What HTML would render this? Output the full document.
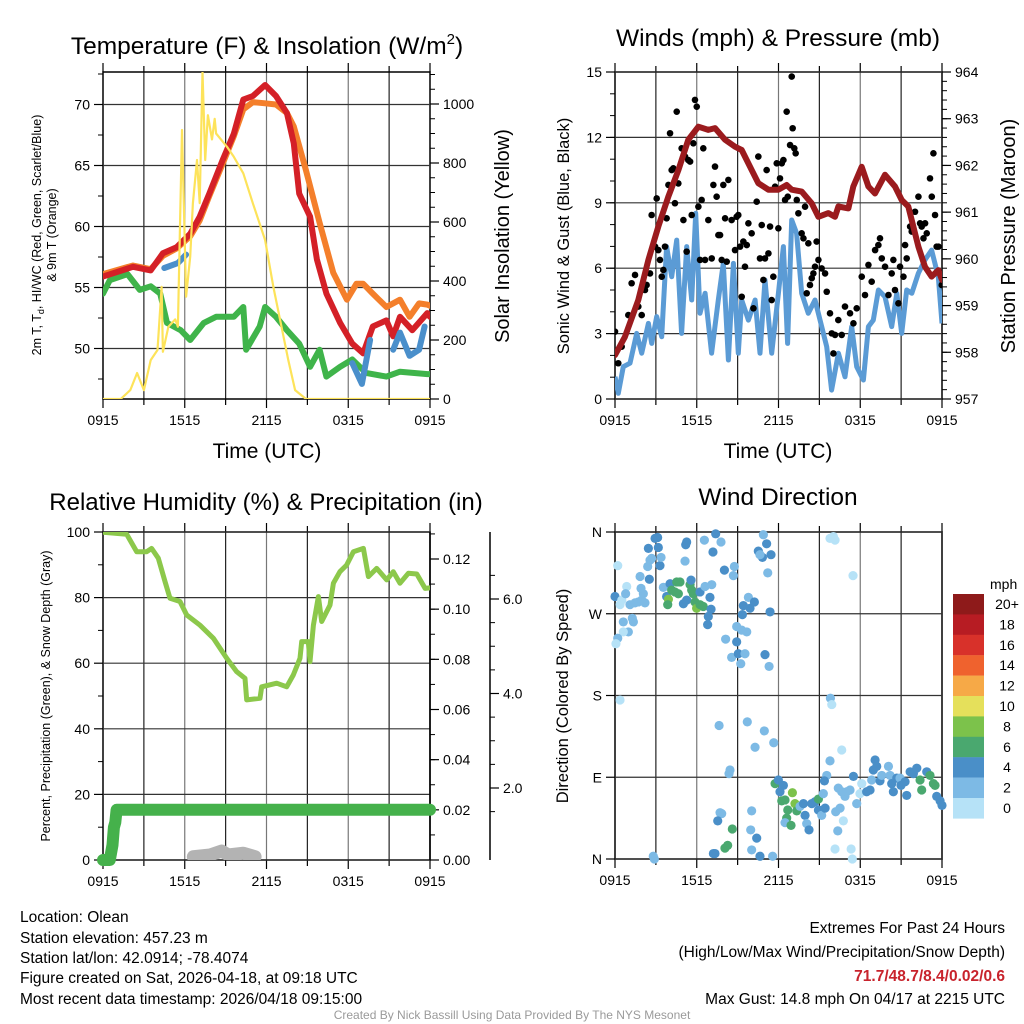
<!DOCTYPE html>
<html><head><meta charset="utf-8"><title>Mesonet Olean</title>
<style>
html,body{margin:0;padding:0;background:#fff;}
svg{display:block;font-family:"Liberation Sans",Arial,sans-serif;}
</style></head>
<body>
<svg id="chart" width="1024" height="1024" viewBox="0 0 1024 1024" xmlns="http://www.w3.org/2000/svg">
<defs>
<clipPath id="c1"><rect x="103" y="72" width="327" height="327"/></clipPath>
<clipPath id="c2"><rect x="615" y="72" width="327" height="327"/></clipPath>
<clipPath id="c3"><rect x="103" y="532" width="327" height="328"/></clipPath>
<clipPath id="c4"><rect x="609" y="526" width="339" height="340"/></clipPath>
</defs>
<g id="g1"></g>
<g id="g2"></g>
<g id="g3"></g>
<g id="g4"></g>

<text x="267" y="54" font-size="24.5" text-anchor="middle">Temperature (F) &amp; Insolation (W/m<tspan font-size="15" dy="-10">2</tspan><tspan dy="10">)</tspan></text>
<text x="778" y="46" font-size="24.5" text-anchor="middle">Winds (mph) &amp; Pressure (mb)</text>
<text x="266" y="510" font-size="24" text-anchor="middle">Relative Humidity (%) &amp; Precipitation (in)</text>
<text x="778" y="505" font-size="24.5" text-anchor="middle">Wind Direction</text>

<text x="267" y="458" font-size="21" text-anchor="middle">Time (UTC)</text>
<text x="778" y="458" font-size="21" text-anchor="middle">Time (UTC)</text>

<text transform="translate(41,235) rotate(-90)" font-size="12.5" text-anchor="middle">2m T, T<tspan font-size="9" dy="3">d</tspan><tspan dy="-3">, HI/WC (Red, Green, Scarlet/Blue)</tspan></text>
<text transform="translate(56,235) rotate(-90)" font-size="12.5" text-anchor="middle">&amp; 9m T (Orange)</text>
<text transform="translate(509,236) rotate(-90)" font-size="20" text-anchor="middle">Solar Insolation (Yellow)</text>
<text transform="translate(569,236) rotate(-90)" font-size="16.5" text-anchor="middle">Sonic Wind &amp; Gust (Blue, Black)</text>
<text transform="translate(1015,236) rotate(-90)" font-size="20" text-anchor="middle">Station Pressure (Maroon)</text>
<text transform="translate(50,696) rotate(-90)" font-size="12.5" text-anchor="middle">Percent, Precipitation (Green), &amp; Snow Depth (Gray)</text>
<text transform="translate(568,696) rotate(-90)" font-size="16.5" text-anchor="middle">Direction (Colored By Speed)</text>

<g font-size="15.5">
<text x="20" y="922">Location: Olean</text>
<text x="20" y="943">Station elevation: 457.23 m</text>
<text x="20" y="963">Station lat/lon: 42.0914; -78.4074</text>
<text x="20" y="983">Figure created on Sat, 2026-04-18, at 09:18 UTC</text>
<text x="20" y="1004">Most recent data timestamp: 2026/04/18 09:15:00</text>
</g>
<g font-size="15.5" text-anchor="end">
<text x="1005" y="933">Extremes For Past 24 Hours</text>
<text x="1005" y="957">(High/Low/Max Wind/Precipitation/Snow Depth)</text>
<text x="1005" y="981" fill="#c8232c" font-weight="bold">71.7/48.7/8.4/0.02/0.6</text>
<text x="1005" y="1004">Max Gust: 14.8 mph On 04/17 at 2215 UTC</text>
</g>
<text x="512" y="1019" font-size="12" fill="#9a9a9a" text-anchor="middle">Created By Nick Bassill Using Data Provided By The NYS Mesonet</text>
</svg>
<script>
// ---------- Panel 1 data ----------
const redT=[0,2.2,3.5,4.4,5.4,6.4,7.1,7.8,8.8,9.6,10.3,11.0,11.9,12.7,13.5,14.0,14.4,15.2,15.7,16.4,17.4,18.3,19.1,19.8,20.8,21.3,21.8,22.7,23.8,24];
const redV=[55.9,56.7,56.4,57.8,58.3,59.4,60.8,62.7,65.5,67.6,70.4,70.7,71.6,70.7,69.3,66.8,62.7,60.8,57.3,54.5,52.1,50.4,49.6,51.8,52.3,51.0,52.6,51.5,52.9,52.6];
const orangeT=[0,2.2,3.5,4.4,5.4,6.4,7.1,7.8,8.8,9.6,10.3,11.0,11.9,12.7,13.5,14.0,14.9,15.9,16.9,17.9,18.6,19.1,19.8,20.8,21.8,22.5,23.2,23.8,24];
const orangeV=[56.1,56.8,56.5,57.6,58.2,59.2,60.5,62.5,65.2,67.4,69.6,70.2,70.1,70.0,69.3,68.2,64.6,60.3,56.2,54.0,55.3,55.3,54.5,53.4,54.0,52.6,53.7,53.6,53.5];
const dewT=[0,0.5,1.8,2.7,3.5,4.2,4.7,5.7,6.4,7.4,8.3,9.6,10.3,10.5,11.5,11.9,12.7,13.5,14.4,15.2,15.9,16.4,17.4,18.3,19.3,20.8,21.8,23.8,24];
const dewV=[54.5,55.6,56.1,54.8,55.1,54.5,52.1,51.5,50.7,52.1,52.6,52.6,53.4,49.9,51.8,53.4,52.6,51.5,50.4,48.5,49.9,47.7,48.5,49.1,48.0,47.7,48.1,47.9,47.9];
const wc1T=[4.5,5.5,6.1];
const wc1V=[56.6,57.0,57.7];
const wc2T=[18.3,19.0,19.6];
const wc2V=[48.8,47.1,50.7];
const wc3T=[21.3,21.8,22.5,23.2,23.6];
const wc3V=[49.9,51.3,49.4,49.9,51.8];
const solT=[0,1.3,2.0,2.5,3.0,3.5,4.0,4.3,4.4,4.8,5.3,5.5,5.8,6.1,6.4,6.6,6.9,7.1,7.3,7.5,7.7,8.0,8.2,8.3,9.1,9.6,10.3,11.0,11.9,12.5,13.1,13.6,14.1,14.9,24];
const solV=[0,0,30,88,30,132,166,380,160,245,270,245,912,347,482,664,810,664,1110,810,962,880,950,900,855,821,765,663,539,381,245,132,30,0,0];
// ---------- Panel 2 data ----------
const presT=[0,0.73,1.71,2.45,3.18,3.91,4.65,5.38,6.12,6.85,7.34,8.07,8.81,9.30,10.03,10.52,11.26,11.99,12.6,12.97,13.70,14.44,14.93,15.66,16.15,16.4,17.13,17.49,18.11,18.6,19.08,19.82,20.55,21.04,21.53,22.27,22.75,23.24,23.73,24];
const presV=[957.94,958.33,959.12,959.98,960.69,961.33,961.90,962.55,962.83,962.76,962.80,962.55,962.40,962.33,961.90,961.62,961.48,961.48,961.58,961.48,961.44,961.19,960.90,960.98,960.90,961.12,961.08,961.55,961.97,961.55,961.40,961.80,961.55,961.26,961.12,960.26,959.83,959.62,959.76,959.55];
const windT=[0,0.24,0.61,1.1,1.59,1.96,2.45,2.69,3.06,3.43,3.79,4.16,4.53,4.89,5.26,5.63,5.92,6.24,6.61,7.09,7.58,7.95,8.32,8.69,9.05,9.3,9.79,10.28,10.64,11.01,11.5,11.99,12.36,12.67,12.97,13.33,13.7,14.19,14.68,15.17,15.54,15.9,16.4,16.88,17.37,17.74,18.23,18.6,18.96,19.33,19.82,20.31,20.68,21.04,21.41,21.78,22.27,22.75,23.24,23.73,24];
const windV=[1.02,0.26,1.48,1.64,3.01,2.1,3.47,2.55,3.78,2.86,6.99,5.61,7.29,3.01,6.99,4.54,8.52,3.93,4.85,2.1,4.54,6.22,1.79,6.22,2.1,4.54,3.62,4.54,2.1,5.46,2.1,4.85,6.99,2.55,8.21,7.6,4.85,3.93,4.54,3.32,2.4,0.41,2.1,1.02,3.32,1.48,0.87,3.32,3.62,5.0,4.69,3.32,4.85,3.01,5.0,4.85,5.77,6.38,6.83,5.61,3.47];
const gustT=[0,0.24,0.49,0.98,1.22,1.47,1.71,1.96,2.2,2.32,2.57,2.69,2.94,3.06,3.18,3.3,3.43,3.55,3.67,3.79,3.92,4.04,4.16,4.28,4.4,4.53,4.65,4.89,5.02,5.14,5.26,5.38,5.51,5.63,5.75,5.87,6.0,6.12,6.24,6.36,6.48,6.61,6.85,7.1,7.22,7.34,7.46,7.59,7.71,7.83,7.95,8.08,8.2,8.32,8.56,8.81,8.93,9.05,9.18,9.3,9.42,9.54,9.67,9.79,10.03,10.16,10.4,10.52,10.64,10.77,10.89,11.01,11.13,11.26,11.38,11.5,11.62,11.75,11.87,11.99,12.11,12.24,12.36,12.48,12.6,12.68,12.85,12.97,13.04,13.16,13.26,13.34,13.46,13.7,13.83,13.95,14.07,14.19,14.31,14.44,14.56,14.68,14.8,14.93,15.17,15.42,15.54,15.78,15.91,16.03,16.15,16.39,16.64,16.88,17.25,17.5,17.74,18.11,18.35,18.6,18.84,19.09,19.33,19.45,19.58,19.82,20.07,20.31,20.43,20.55,20.8,20.92,21.17,21.29,21.41,21.66,21.78,22.02,22.27,22.39,22.51,22.64,22.76,22.88,23.12,23.25,23.37,23.49,23.61,23.74,23.98];
const gustV=[3.09,1.64,2.4,3.85,5.31,5.69,4.24,3.85,5.0,5.23,5.76,8.44,6.99,9.2,6.83,6.38,5.61,5.92,6.99,8.29,9.82,12.19,10.5,10.58,8.98,13.18,9.89,11.5,8.21,11.12,6.76,10.96,10.89,8.44,11.73,13.72,13.41,8.82,6.38,9.13,11.5,6.38,8.21,6.45,9.82,10.66,9.28,7.52,7.52,6.38,9.82,8.29,6.3,10.05,8.21,6.83,8.36,8.44,6.99,4.69,7.22,6.07,7.06,8.06,7.6,4.16,9.05,11.12,6.45,7.98,5.46,6.45,10.5,6.68,7.91,4.54,5.61,9.74,10.81,7.83,10.12,10.81,10.96,9.13,13.18,9.28,11.65,14.79,12.42,11.5,11.27,9.13,8.52,7.6,7.37,8.82,4.85,7.14,5.23,5.54,5.76,6.07,7.22,6.38,5.99,5.76,4.92,3.93,3.01,2.09,2.94,3.62,2.94,4.24,3.93,3.47,4.16,5.61,4.77,6.15,5.38,6.83,7.06,7.37,6.45,6.07,4.77,5.76,6.38,5.0,4.39,6.07,5.61,7.06,6.45,7.91,7.68,8.59,9.28,8.06,7.91,7.37,8.06,7.6,10.12,9.28,11.27,8.44,6.99,6.99,5.23];
// ---------- Panel 3 data ----------
const rhT=[0,1.74,2.47,3.21,3.57,4.06,4.55,4.92,5.65,6.14,7.12,8.1,9.08,9.81,10.42,10.55,11.52,11.65,12.75,13.48,13.97,14.46,14.58,15.07,15.19,15.44,15.81,16.05,16.66,16.91,17.39,17.88,18.38,19.11,19.48,20.09,20.82,21.31,21.8,22.41,23.03,23.64,24];
const rhV=[99.9,99.3,94.0,94.0,95.0,92.0,84.9,79.8,78.8,74.7,71.6,67.6,61.5,57.4,55.4,48.8,49.3,52.8,53.9,52.8,56.4,61.5,66.6,66.6,60.5,71.6,80.3,72.7,77.7,84.4,87.9,89.9,94.0,95.0,86.4,88.9,85.4,87.9,84.4,87.4,87.2,82.8,83.0];
const precipT=[0,0.5,0.7,0.8,0.9,1.0,24];
const precipV=[0,0,0.006,0.013,0.015,0.02,0.02];
const snowT=[6.63,7.85,8.71,9.2,10.3,11.16];
const snowV=[0.0013,0.002,0.0036,0.002,0.0027,0.0013];
// ---------- Panel 4 data ----------
const dirT=[0.2,0,0.5,0.37,0.86,0.78,1.10,1.47,1.71,1.96,2.20,2.08,1.91,1.84,2.52,2.40,2.57,2.69,2.45,2.94,3.13,3.18,3.30,3.38,0.61,0.98,1.35,1.27,0.61,0.2,0.07,0.37,3.55,3.79,4.04,4.16,4.40,4.53,4.77,4.65,3.92,3.87,5.02,5.26,5.51,5.63,5.75,5.87,5.99,6.24,6.48,5.58,6.24,6.61,7.10,6.97,7.05,6.85,6.80,5.19,5.26,6.56,7.39,7.78,7.19,5.14,8.03,8.76,8.69,9.79,10.23,9.91,9.42,9.35,8.93,9.30,9.67,8.93,8.12,8.56,9.05,9.54,9.23,11.01,11.31,11.38,10.89,11.13,10.52,10.82,11.45,11.21,10.64,7.64,9.71,10.96,11.65,10.28,8.44,8.37,7.71,7.83,7.54,8.61,8.07,8.27,7.34,7.22,10.03,9.96,10.40,10.03,10.64,11.57,2.81,2.89,11.75,11.99,12.36,12.11,12.24,12.48,12.68,12.60,12.48,12.92,13.02,13.21,13.34,13.58,13.83,13.95,14.07,14.24,14.44,14.68,14.93,14.93,15.17,15.42,15.29,15.54,15.37,15.78,15.81,15.91,16.64,16.20,16.35,16.52,16.76,16.15,17.33,17.42,16.39,16.64,16.88,17.01,17.25,17.50,17.74,17.98,18.11,18.47,18.72,18.84,18.96,19.09,19.21,19.45,19.58,20.07,20.19,20.31,20.43,20.68,20.92,20.99,21.29,21.41,21.66,21.90,22.15,22.39,22.51,22.88,23.12,23.37,23.49,23.61,23.86,24,16.03,16.15,17.47,15.78];
const dirV=[323,289,285,280,300,292,280,282,283,285,282,292,298,311,308,322,329,331,342,353,354,343,323,332,261,250,261,265,250,243,237,175,299,289,303,296,294,305,305,292,286,280,281,285,302,296,292,283,276,280,278,307,294,300,302,288,275,267,258,346,349,351,358,349,338,328,318,322,312,288,283,276,279,269,256,252,250,239,242,222,226,226,215,225,212,272,357,347,339,332,335,315,335,147,151,141,128,123,98,94,51,50,42,33,12,15,6,6,53,32,23,10,3,3,3,0,83,87,81,74,64,65,54,45,40,37,73,61,53,58,61,48,39,32,61,63,66,54,48,56,72,92,86,108,177,170,120,52,31,56,42,11,11,0,78,74,69,74,76,91,61,72,83,74,76,87,98,109,102,86,92,102,92,83,74,89,89,81,85,70,96,94,100,87,76,96,92,83,81,69,64,59,355,351,312,353];
const dirSpd=[1,5,1,1,1,3,3,3,3,3,3,3,3,3,5,3,3,3,5,5,5,5,5,3,3,3,3,3,1,3,1,1,3,5,5,7,7,7,7,7,9,7,5,5,7,7,7,7,9,7,7,5,5,3,3,5,5,5,5,5,5,3,5,3,5,3,5,3,3,3,5,5,5,5,3,3,3,5,3,3,5,3,3,5,3,5,3,5,5,5,5,3,3,3,3,3,3,3,3,3,3,3,5,7,7,7,5,5,3,3,5,3,5,3,3,3,7,5,5,5,7,7,7,7,3,7,9,9,7,3,5,5,3,5,5,5,7,5,3,5,3,3,5,3,3,1,1,3,3,3,1,1,1,1,3,3,3,3,3,5,3,1,1,5,5,3,5,5,5,5,3,3,3,5,5,5,3,5,5,5,5,5,5,7,7,5,7,7,7,5,5,5,1,1,1,1];
const cbLabels=["20+","18","16","14","12","10","8","6","4","2","0"];
const cbColors=["#8e1a1a","#b71c23","#d8312a","#ef622e","#f6a947","#e5e05b","#7cc24b","#4aa86f","#4a8fc8","#7dbae5","#b6e2f7"];
const timeLabels=["0915","1515","2115","0315","0915"];

const NS="http://www.w3.org/2000/svg";
function mk(parent,tag,attrs){const e=document.createElementNS(NS,tag);for(const k in attrs)e.setAttribute(k,attrs[k]);parent.appendChild(e);return e;}
function lin(d0,d1,r0,r1){return v=>r0+(v-d0)/(d1-d0)*(r1-r0);}
function pathD(ts,vs,sx,sy){return ts.map((t,i)=>(i?"L":"M")+sx(t).toFixed(1)+","+sy(vs[i]).toFixed(1)).join("");}

function frame(g,x0,y0,w,h){
  for(let i=1;i<8;i++){const x=x0+w*i/8;
    const l=mk(g,"line",{x1:x,y1:y0,x2:x,y2:y0+h,stroke:i%2?"#222":"#777","stroke-width":1.2});
    
    }
  const r=mk(g,"rect",{x:x0,y:y0,width:w,height:h,fill:"none",stroke:"#000","stroke-width":1.5});
  
  
  for(let i=0;i<=8;i++){const x=x0+w*i/8;
    mk(g,"line",{x1:x,y1:y0+h,x2:x,y2:y0+h+(i%2?6:9),stroke:"#000","stroke-width":1.2});
    mk(g,"line",{x1:x,y1:y0,x2:x,y2:y0-(i%2?6:9),stroke:"#000","stroke-width":1.2});}
  for(let i=0;i<5;i++){const t=mk(g,"text",{x:x0+w*i/4,y:y0+h+26,"font-size":14,"text-anchor":"middle"});t.textContent=timeLabels[i];
    
    }
}
function yAxis(g,x,sy,vals,labels,minors,side,hgrid,x0,x1){
  vals.forEach((v,i)=>{const y=sy(v);
    if(hgrid){const l=mk(g,"line",{x1:x0,y1:y,x2:x1,y2:y,stroke:"#333","stroke-width":1.2});
      
      }
    mk(g,"line",{x1:x,y1:y,x2:x+side*9,y2:y,stroke:"#000","stroke-width":1.2});
    const t=mk(g,"text",{x:x+side*13,y:y+5,"font-size":14,"text-anchor":side<0?"end":"start"});t.textContent=labels[i];
    
    });
  minors.forEach(v=>{const y=sy(v);mk(g,"line",{x1:x,y1:y,x2:x+side*5,y2:y,stroke:"#000","stroke-width":1});});
}
function range(a,b,s){const r=[];for(let v=a;v<=b+1e-9;v+=s)r.push(+v.toFixed(4));return r;}

// ===== Panel 1 =====
(function(){
  const g=document.getElementById("g1");
  const sx=lin(0,24,103,430), sy=lin(50,70,348.5,104.5), sy2=lin(0,1000,399,104);
  frame(g,103,72,327,327);
  yAxis(g,103,sy,[50,55,60,65,70],["50","55","60","65","70"],range(47.5,72.5,2.5),-1,true,103,430);
  yAxis(g,430,sy2,[0,200,400,600,800,1000],["0","200","400","600","800","1000"],range(50,1100,50),1,false);
  const c=mk(g,"g",{"clip-path":"url(#c1)","fill":"none","stroke-linejoin":"round","stroke-linecap":"round"});
  const s=[[dewT,dewV,"#3fb44a","dewpoint-line",6],[orangeT,orangeV,"#f47f2b","temp-9m-line",6],[redT,redV,"#d42027","temp-2m-line",6],
    [wc1T,wc1V,"#4a8fcb","windchill-line-1",6],[wc2T,wc2V,"#4a8fcb","windchill-line-2",6],[wc3T,wc3V,"#4a8fcb","windchill-line-3",6]];
  s.forEach(a=>{const p=mk(c,"path",{d:pathD(a[0],a[1],sx,sy),stroke:a[2],"stroke-width":a[4]});
    
    });
  const p=mk(c,"path",{d:pathD(solT,solV,sx,sy2),stroke:"#fde35a","stroke-width":2.2});
  
  
})();

// ===== Panel 2 =====
(function(){
  const g=document.getElementById("g2");
  const sx=lin(0,24,615,942), sy=lin(0,15,399,72), sy2=lin(957,964,399,72);
  frame(g,615,72,327,327);
  yAxis(g,615,sy,[0,3,6,9,12,15],["0","3","6","9","12","15"],range(0,15,1),-1,true,615,942);
  yAxis(g,942,sy2,[957,958,959,960,961,962,963,964],["957","958","959","960","961","962","963","964"],range(957,964,0.2),1,false);
  const c=mk(g,"g",{"clip-path":"url(#c2)"});
  const w=mk(c,"path",{d:pathD(windT,windV,sx,sy),fill:"none",stroke:"#5b9bd5","stroke-width":5,"stroke-linejoin":"round"});
  
  
  gustT.forEach((t,i)=>{const d=mk(c,"circle",{cx:sx(t),cy:sy(gustV[i]),r:3.3,fill:"#000"});
    
    });
  const p=mk(c,"path",{d:pathD(presT,presV,sx,sy2),fill:"none",stroke:"#9b1b1e","stroke-width":6,"stroke-linejoin":"round","stroke-linecap":"round"});
  
  
})();

// ===== Panel 3 =====
(function(){
  const g=document.getElementById("g3");
  const sx=lin(0,24,103,430), sy=lin(0,100,860,532), sy2=lin(0,0.12,860,559), sy3=lin(2,6,788,599);
  frame(g,103,532,327,328);
  yAxis(g,103,sy,[0,20,40,60,80,100],["0","20","40","60","80","100"],range(10,90,20),-1,true,103,430);
  mk(g,"line",{x1:430,y1:532,x2:430,y2:860,stroke:"#000","stroke-width":1.5});
  yAxis(g,430,sy2,[0,0.02,0.04,0.06,0.08,0.10,0.12],["0.00","0.02","0.04","0.06","0.08","0.10","0.12"],range(0.01,0.13,0.01),1,false);
  const ax=mk(g,"line",{x1:490,y1:532,x2:490,y2:860,stroke:"#000","stroke-width":1.5});
  
  
  yAxis(g,490,sy3,[2,4,6],["2.0","4.0","6.0"],range(1.5,6.5,0.5),1,false);
  const c=mk(g,"g",{"clip-path":"url(#c3)","fill":"none","stroke-linejoin":"round","stroke-linecap":"round"});
  const sn=mk(c,"path",{d:pathD(snowT,snowV,sx,sy2),stroke:"#b3b3b3","stroke-width":13});
  
  
  const rh=mk(c,"path",{d:pathD(rhT,rhV,sx,sy),stroke:"#8cc84b","stroke-width":5});
  
  
  const pr=mk(g,"path",{d:pathD(precipT,precipV,sx,sy2),fill:"none",stroke:"#45b14b","stroke-width":12,"stroke-linejoin":"round","stroke-linecap":"round"});
  
  
})();

// ===== Panel 4 =====
(function(){
  const g=document.getElementById("g4");
  const sx=lin(0,24,615,942), sy=lin(0,360,859,532);
  frame(g,615,532,327,327);
  yAxis(g,615,sy,[0,90,180,270,360],["N","E","S","W","N"],[],-1,true,615,942);
  const c=mk(g,"g",{"clip-path":"url(#c4)"});
  function col(s){const idx=Math.min(10,Math.floor(s/2));return cbColors[10-idx];}
  dirT.forEach((t,i)=>{const d=mk(c,"circle",{cx:sx(t),cy:sy(dirV[i]),r:4.6,fill:col(dirSpd[i])});
    
    });
  const cb=mk(g,"g",{});
  
  
  const t0=mk(cb,"text",{x:990,y:589,"font-size":14});t0.textContent="mph";
  
  
  cbColors.forEach((cc,i)=>{const y=594+i*20.4;
    const r=mk(cb,"rect",{x:953,y:y,width:31,height:20.6,fill:cc});
    
    
    const t=mk(cb,"text",{x:1007,y:y+15,"font-size":14,"text-anchor":"middle"});t.textContent=cbLabels[i];
    
    });
})();
</script>
</body></html>
